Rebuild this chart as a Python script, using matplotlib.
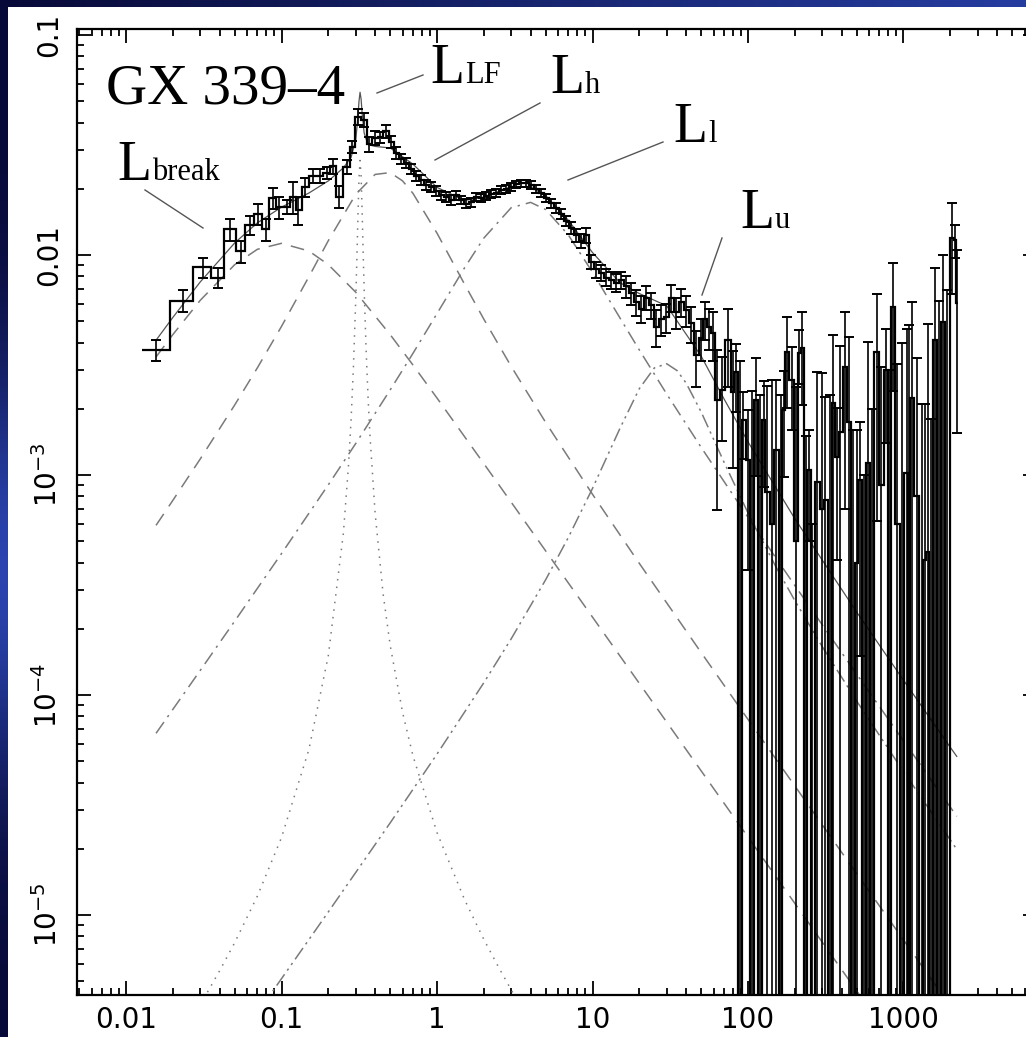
import numpy as np
import matplotlib
matplotlib.use("Agg")
import matplotlib.pyplot as plt
from matplotlib.lines import Line2D
from matplotlib.patches import Rectangle

W, H = 1026, 1037

# ---- PDS bins: frequency (Hz), nu*P_nu, 1-sigma error
lo_freq = [0.0156, 0.0234, 0.0313, 0.0391, 0.0469, 0.0547, 0.0625, 0.0703, 0.0796, 0.088,
           0.096, 0.108, 0.119, 0.128, 0.142, 0.16, 0.177, 0.195, 0.215, 0.234,
           0.264, 0.284, 0.311, 0.339, 0.366, 0.40, 0.43, 0.47]
lo_pow = [0.0037, 0.0062, 0.0088, 0.0079, 0.0131, 0.0104, 0.0137, 0.0154, 0.0131, 0.0182,
          0.0165, 0.0165, 0.0184, 0.0160, 0.0204, 0.0229, 0.0229, 0.0236, 0.0254, 0.0184,
          0.0251, 0.0311, 0.0424, 0.0411, 0.0319, 0.0340, 0.0344, 0.0366]
lo_err = [0.0004, 0.0007, 0.0009, 0.0008, 0.0015, 0.0012, 0.0014, 0.0017, 0.0015, 0.0020,
          0.0019, 0.0012, 0.0031, 0.0023, 0.0020, 0.0017, 0.0017, 0.0014, 0.0020, 0.0021,
          0.0018, 0.0020, 0.0035, 0.0030, 0.0025, 0.0025, 0.0020, 0.0025]

mid_freq = [0.506, 0.545, 0.587, 0.632, 0.681, 0.733, 0.790, 0.850, 0.916, 0.986,
            1.062, 1.144, 1.232, 1.327, 1.429, 1.539, 1.657, 1.785, 1.922, 2.070,
            2.229, 2.401, 2.586, 2.785, 2.999, 3.230, 3.478, 3.746, 4.034, 4.344,
            4.678, 5.038, 5.426, 5.843, 6.293, 6.777, 7.298, 7.859, 8.464, 9.115,
            9.816, 10.57, 11.38, 12.26, 13.20, 14.22, 15.31, 16.49, 17.76, 19.12,
            20.59, 22.18, 23.88, 25.72, 27.70, 29.83, 32.12, 34.59, 37.25, 40.12,
            43.21, 46.3, 49.9, 52.9, 56.1, 59.6]
mid_pow = [0.0327, 0.0291, 0.0273, 0.0262, 0.0246, 0.0229, 0.0219, 0.0208, 0.0204, 0.0195,
           0.0187, 0.0184, 0.0178, 0.0187, 0.0178, 0.0171, 0.0174, 0.0184, 0.0182, 0.0185,
           0.0189, 0.0191, 0.0197, 0.0200, 0.0204, 0.0210, 0.0212, 0.0212, 0.0208, 0.0200,
           0.0191, 0.0182, 0.0172, 0.0164, 0.0154, 0.0143, 0.0133, 0.0123, 0.0116, 0.0123,
           0.0093, 0.0086, 0.0083, 0.0079, 0.0077, 0.0075, 0.0077, 0.0072, 0.0067, 0.0061,
           0.0057, 0.0064, 0.0059, 0.0047, 0.0051, 0.0052, 0.0064, 0.0055, 0.0061, 0.0056,
           0.0049, 0.0035, 0.0042, 0.0051, 0.0047, 0.0044]
mid_err = [0.0022, 0.0018, 0.0015, 0.0014, 0.0013, 0.0012, 0.0011, 0.0011, 0.0010, 0.0010,
           0.0009, 0.0009, 0.0009, 0.0009, 0.0008, 0.0008, 0.0008, 0.0008, 0.0008, 0.0008,
           0.0008, 0.0008, 0.0008, 0.0008, 0.0008, 0.0008, 0.0008, 0.0008, 0.0008, 0.0008,
           0.0008, 0.0008, 0.0008, 0.0008, 0.0008, 0.0008, 0.0008, 0.0008, 0.0008, 0.0009,
           0.0007, 0.0007, 0.0007, 0.0007, 0.0007, 0.0007, 0.0007, 0.0008, 0.0008, 0.0008,
           0.0008, 0.0008, 0.0008, 0.0009, 0.0008, 0.0008, 0.0009, 0.0009, 0.0009, 0.0009,
           0.0009, 0.0010, 0.0009, 0.0010, 0.0010, 0.0011]

hi_freq = [63.2, 68.1, 74.4, 80.1, 83.7, 88.8, 92.9, 100, 106.1, 112.6,
           119.5, 126.7, 132.5, 142.7, 151.4, 163, 170.4, 178.1, 191.9, 203.6,
           212.8, 222.5, 236, 246.8, 258, 277.8, 299.2, 312.8, 336.9, 352.2,
           373.6, 390.6, 420.6, 446.2, 473.4, 502.3, 525.1, 557.2, 591.1, 627.2,
           675.3, 716.6, 771.8, 807, 856.2, 908.4, 978.2, 1053, 1085, 1134,
           1221, 1315, 1375, 1437, 1503, 1594, 1692, 1795, 1905, 2051, 2144, 2209]
hi_pow = [0.00219, 0.00243, 0.00411, 0.00238, 0.00294, -0.0005, 0.00178, 0.00117, -0.0006, 0.00219,
          -0.0008, 0.00178, 0.00084, 0.0006, 0.0013, -0.001, 0.00198, 0.00362, 0.0027, 0.0005,
          0.00358, 0.00378, -0.0012, 0.00105, -0.002, 0.00093, 0.0007, 0.00077, -0.0007, 0.00212,
          0.00121, 0.00157, 0.0031, 0.00174, -0.0005, 0.0004, 0.00095, -0.0008, 0.00113, -0.0006,
          0.00362, 0.0009, 0.003, -0.0005, 0.0058, 0.0006, -0.0004, 0.00102, -0.0012, 0.00224,
          0.0008, -0.0003, 0.00041, 0.000447, -0.0008, 0.00411, -0.001, 0.00496, -0.0004, 0.01195,
          0.0117, 0.00605]
hi_err = [0.0015, 0.0010, 0.0016, 0.0013, 0.0010, 0.0038, 0.0006, 0.0008, 0.0030, 0.0012,
          0.0031, 0.0009, 0.0017, 0.0021, 0.0014, 0.0033, 0.0010, 0.0016, 0.0011, 0.0020,
          0.0010, 0.0017, 0.0027, 0.00055, 0.0026, 0.0020, 0.0022, 0.0015, 0.0030, 0.0022,
          0.0008, 0.0023, 0.0024, 0.0025, 0.0021, 0.0012, 0.0008, 0.0018, 0.0029, 0.0026,
          0.0030, 0.0022, 0.0016, 0.0035, 0.0034, 0.0026, 0.0044, 0.0036, 0.0060, 0.0039,
          0.0026, 0.0024, 0.0017, 0.0044, 0.0026, 0.0046, 0.0072, 0.0050, 0.0073, 0.0053,
          0.0020, 0.0045]

# ---- fitted Lorentzian components (sampled off the figure)
brk_f = [0.0156, 0.02, 0.03, 0.05, 0.07, 0.1, 0.15, 0.2, 0.3, 0.5, 0.7, 1, 2, 3, 5,
         10, 20, 50, 100, 200, 500, 1000, 2200]
brk_p = [0.003442, 0.004346, 0.00622, 0.00904, 0.01062, 0.0113, 0.01043, 0.00904, 0.00678,
         0.004346, 0.003164, 0.002238, 0.001127, 7.525e-4, 4.518e-4, 2.26e-4, 1.13e-4,
         4.52e-5, 2.26e-5, 1.13e-5, 4.52e-6, 2.26e-6, 1.03e-6]

lf_f = [0.0156, 0.03, 0.04, 0.05, 0.07, 0.1, 0.15, 0.2, 0.25, 0.27, 0.28, 0.29, 0.3, 0.305,
        0.31, 0.315, 0.32, 0.325, 0.33, 0.335, 0.34, 0.35, 0.36, 0.37, 0.4, 0.45, 0.5, 0.6,
        0.7, 1, 1.5, 2, 2.5, 3, 4, 10]
lf_p = [1.84e-6, 3.9e-6, 5.58e-6, 7.49e-6, 1.22e-5, 2.25e-5, 5.65e-5, 1.51e-4, 5.44e-4,
        1.12e-3, 1.77e-3, 3.08e-3, 6.19e-3, 9.4e-3, 1.47e-2, 2.22e-2, 2.69e-2, 2.29e-2,
        1.57e-2, 1.03e-2, 7.02e-3, 3.72e-3, 2.28e-3, 1.54e-3, 6.7e-4, 2.89e-4, 1.68e-4,
        8.36e-5, 5.3e-5, 2.37e-5, 1.18e-5, 7.75e-6, 5.76e-6, 4.57e-6, 3.23e-6, 1.1e-6]

h_f = [0.0156, 0.02, 0.03, 0.05, 0.07, 0.1, 0.15, 0.2, 0.3, 0.4, 0.5, 0.6, 0.7, 1, 1.5,
       2, 3, 5, 10, 20, 50, 100, 200, 500, 1000, 2200]
h_p = [5.906e-4, 7.666e-4, 0.001182, 0.002081, 0.003073, 0.004738, 0.007966, 0.01162,
       0.01886, 0.02325, 0.02369, 0.02174, 0.01908, 0.01257, 0.007392, 0.005112, 0.003116,
       0.001733, 8.173e-4, 3.967e-4, 1.559e-4, 7.747e-5, 3.862e-5, 1.542e-5, 7.705e-6, 3.5e-6]

l_f = [0.0156, 0.03, 0.05, 0.1, 0.2, 0.3, 0.5, 0.7, 1, 1.5, 2, 3, 4, 5, 7, 10, 15, 20,
       30, 50, 100, 200, 500, 1000, 2200]
l_p = [6.698e-5, 1.293e-4, 2.167e-4, 4.395e-4, 9.027e-4, 1.39e-3, 2.437e-3, 3.57e-3,
       5.419e-3, 8.723e-3, 0.01194, 0.01641, 0.01735, 0.01609, 0.01232, 8.349e-3, 5.182e-3,
       3.702e-3, 2.335e-3, 1.335e-3, 6.426e-4, 3.148e-4, 1.244e-4, 6.195e-5, 2.81e-5]

u_f = [0.05, 0.1, 0.2, 0.5, 1, 2, 3, 5, 7, 10, 15, 20, 25, 30, 35, 40, 50, 70, 100, 150,
       200, 300, 500, 1000, 2200]
u_p = [2.562e-6, 5.137e-6, 1.033e-5, 2.624e-5, 5.39e-5, 1.137e-4, 1.801e-4, 3.344e-4,
       5.211e-4, 8.693e-4, 1.627e-3, 2.469e-3, 3.069e-3, 3.205e-3, 2.982e-3, 2.618e-3,
       1.933e-3, 1.147e-3, 6.725e-4, 3.865e-4, 2.688e-4, 1.661e-4, 9.387e-5, 4.487e-5, 1.99e-5]

tot_f = [0.0156, 0.02, 0.03, 0.05, 0.07, 0.1, 0.15, 0.2, 0.25, 0.28, 0.3, 0.31, 0.315, 0.32,
         0.325, 0.33, 0.34, 0.36, 0.4, 0.5, 0.7, 1, 1.5, 2, 3, 4, 5, 7, 10, 15, 20, 30, 50,
         70, 100, 200, 500, 1000, 2000, 2200]
tot_p = [0.0041, 0.0052, 0.00754, 0.01135, 0.01401, 0.0165, 0.01913, 0.02172, 0.02489,
         0.02777, 0.03324, 0.04227, 0.04999, 0.05492, 0.05115, 0.0441, 0.03585, 0.03178,
         0.03116, 0.03067, 0.0259, 0.0203, 0.01771, 0.0183, 0.02046, 0.0204, 0.01861, 0.01436,
         0.01026, 0.007494, 0.006681, 0.005877, 0.003469, 0.002223, 0.001415, 6.335e-4,
         2.382e-4, 1.168e-4, 5.784e-5, 5.26e-5]

# labels: (left x px, baseline y px, suffix) and pointer lines in figure pixels
labels = [(117, 180, 'break'), (430, 83, 'LF'), (550, 93, 'h'), (673, 142, 'l'), (740, 228, 'u')]
pointers = [((145, 190), (203, 228)), ((377, 93), (423, 75)), ((435, 160), (540, 103)),
            ((568, 180), (663, 142)), ((702, 295), (722, 238))]


def fx(x):
    return x / W


def fy(y):
    return 1.0 - y / H


fig = plt.figure(figsize=(W / 100, H / 100), dpi=100)

# slide background: dark blue with a lighter glow, white panel on top
bg = fig.add_axes([0, 0, 1, 1], zorder=-10)
yy, xx = np.mgrid[0:1:80j, 0:1:80j]
glow = 0.8 * np.exp(-((yy - 0.55) / 0.2) ** 2 - (xx / 0.05) ** 2) \
    + 0.7 * np.exp(-(yy / 0.03) ** 2) * xx
glow = np.clip(glow, 0, 1)
base = np.array([0.03, 0.04, 0.22])
bright = np.array([0.2, 0.32, 0.8])
bg.imshow(base + glow[..., None] * (bright - base), extent=[0, 1, 0, 1],
          aspect='auto', interpolation='bilinear', origin='upper')
bg.add_patch(Rectangle((8 / W, 0), 1, 1 - 7 / H, transform=bg.transAxes,
                       facecolor='white', edgecolor='none'))
bg.set_xlim(0, 1)
bg.set_ylim(0, 1)
bg.axis('off')

ax = fig.add_axes([fx(77), fy(995), (1037 - 77) / W, (995 - 29) / H])
ax.set_xscale('log')
ax.set_yscale('log')
ax.set_xlim(0.00484, 7220)
ax.set_ylim(4.33e-6, 0.1065)

grey = '#7a7a7a'
ax.plot(brk_f, brk_p, color=grey, lw=1.1, dashes=(9, 6), zorder=2)
ax.plot(h_f, h_p, color=grey, lw=1.1, dashes=(9, 6), zorder=2)
ax.plot(lf_f, lf_p, color=grey, lw=1.1, dashes=(1, 4), zorder=2)
ax.plot(l_f, l_p, color=grey, lw=1.1, dashes=(9, 4, 1.5, 4), zorder=2)
ax.plot(u_f, u_p, color=grey, lw=1.1, dashes=(9, 3, 1.5, 3, 1.5, 3), zorder=2)
ax.plot(tot_f, tot_p, color='#555555', lw=0.9, zorder=3)

# data: histogram steps plus error bars (negative bins fall below the axis)
freq = np.array(lo_freq + mid_freq + hi_freq)
pw = np.array(lo_pow + mid_pow + hi_pow)
err = np.array(lo_err + mid_err + hi_err)
mids = np.sqrt(freq[1:] * freq[:-1])
edges = np.concatenate([[freq[0] ** 2 / mids[0]], mids, [freq[-1] ** 2 / mids[-1]]])
yc = np.maximum(pw, 1e-9)
bot = np.maximum(pw - err, 1e-10)
top = pw + err
ax.stairs(yc, edges, baseline=None, color='black', lw=1.6, zorder=4)
ax.errorbar(freq, yc, yerr=[yc - bot, top - yc], fmt='none', ecolor='black',
            elinewidth=1.2, capsize=3.5, capthick=1.4, zorder=5)

ax.set_xticks([0.01, 0.1, 1, 10, 100, 1000], labels=['0.01', '0.1', '1', '10', '100', '1000'])
ax.set_yticks([1e-5, 1e-4, 1e-3, 0.01, 0.1],
              labels=[r'$10^{-5}$', r'$10^{-4}$', r'$10^{-3}$', '0.01', '0.1'])
ax.tick_params(which='both', direction='in', top=True, right=True, width=1.3, labelsize=20)
ax.tick_params(which='major', length=10)
ax.tick_params(which='minor', length=5)
ax.tick_params(axis='x', pad=8)
ax.tick_params(axis='y', pad=10, labelrotation=90)
for t in ax.get_yticklabels():
    t.set_va('center')
for s in ax.spines.values():
    s.set_linewidth(1.6)

serif = 'Liberation Serif'
fig.text(fx(106), fy(103), 'GX 339\u20134', fontsize=41, family=serif, va='baseline')
for x, y, sub in labels:
    fig.text(fx(x), fy(y), 'L', fontsize=40, family=serif, va='baseline')
    fig.text(fx(x + 35), fy(y), sub, fontsize=22, family=serif, va='baseline')
for (x0, y0), (x1, y1) in pointers:
    fig.add_artist(Line2D([fx(x0), fx(x1)], [fy(y0), fy(y1)], transform=fig.transFigure,
                          color='#555555', lw=1.0))

fig.savefig('out.png', dpi=100)
